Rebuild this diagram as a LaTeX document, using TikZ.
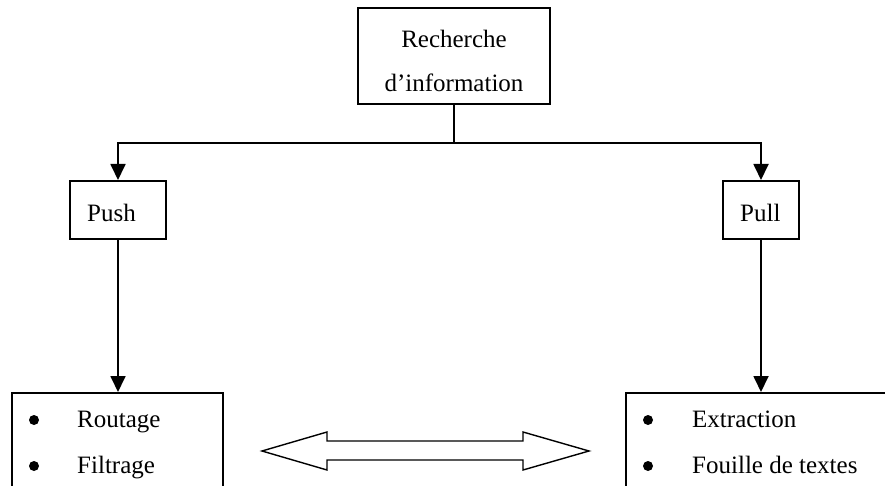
\documentclass[tikz,border=0pt]{standalone}
\usepackage{fontspec}
\setmainfont{Liberation Serif}
\usetikzlibrary{arrows.meta}
\begin{document}
\begin{tikzpicture}[x=1pt,y=-1pt,
  box/.style={draw,line width=2pt,inner sep=0pt},
  lbl/.style={font=\fontsize{25}{30}\selectfont,inner sep=0pt,anchor=base west},
  clbl/.style={font=\fontsize{25}{30}\selectfont,inner sep=0pt,anchor=base},
  conn/.style={line width=1.8pt,-{Triangle[length=16pt,width=15pt]}},
  bullet/.style={circle,fill,inner sep=0pt,minimum size=10pt}]
\useasboundingbox (0,0) rectangle (885,486);
\clip (0,0) rectangle (885,486);
% boxes
\node[box,minimum width=192pt,minimum height=96pt] (top) at (454,56) {};
\node[box,minimum width=96pt,minimum height=58pt] (push) at (118,210) {};
\node[box,minimum width=76pt,minimum height=58pt] (pull) at (761,210) {};
\node[box,minimum width=211pt,minimum height=150pt] (lb) at (117.5,468) {};
\node[box,minimum width=334pt,minimum height=150pt] (rb) at (793,468) {};
% texts
\node[clbl] (t1) at (454,48) {Recherche};
\node[clbl] (t2) at (454,92) {d’information};
\node[lbl] (tpush) at (87,222) {Push};
\node[lbl] (tpull) at (740,222) {Pull};
\node[bullet] (b1) at (34,420) {};
\node[bullet] (b2) at (34,466) {};
\node[lbl] (r1) at (77,427) {Routage};
\node[lbl] (r2) at (77,473) {Filtrage};
\node[bullet] (b3) at (648,420) {};
\node[bullet] (b4) at (648,466) {};
\node[lbl] (e1) at (692,427) {Extraction};
\node[lbl] (e2) at (692,473) {Fouille de textes};
% connectors
\coordinate (split) at (454,143);
\draw[conn] (top.south) -- (split) -| (push.north);
\draw[conn] (split) -| (pull.north);
\draw[conn] (push.south) -- (push.south |- lb.north);
\draw[conn] (pull.south) -- (pull.south |- rb.north);
% double arrow
\draw[line width=1.4pt,line join=miter] (262,451) -- (327,432) -- (327,441) -- (523,441) -- (523,432)
  -- (589,451) -- (523,470) -- (523,460) -- (327,460) -- (327,470) -- cycle;
\end{tikzpicture}
\end{document}
